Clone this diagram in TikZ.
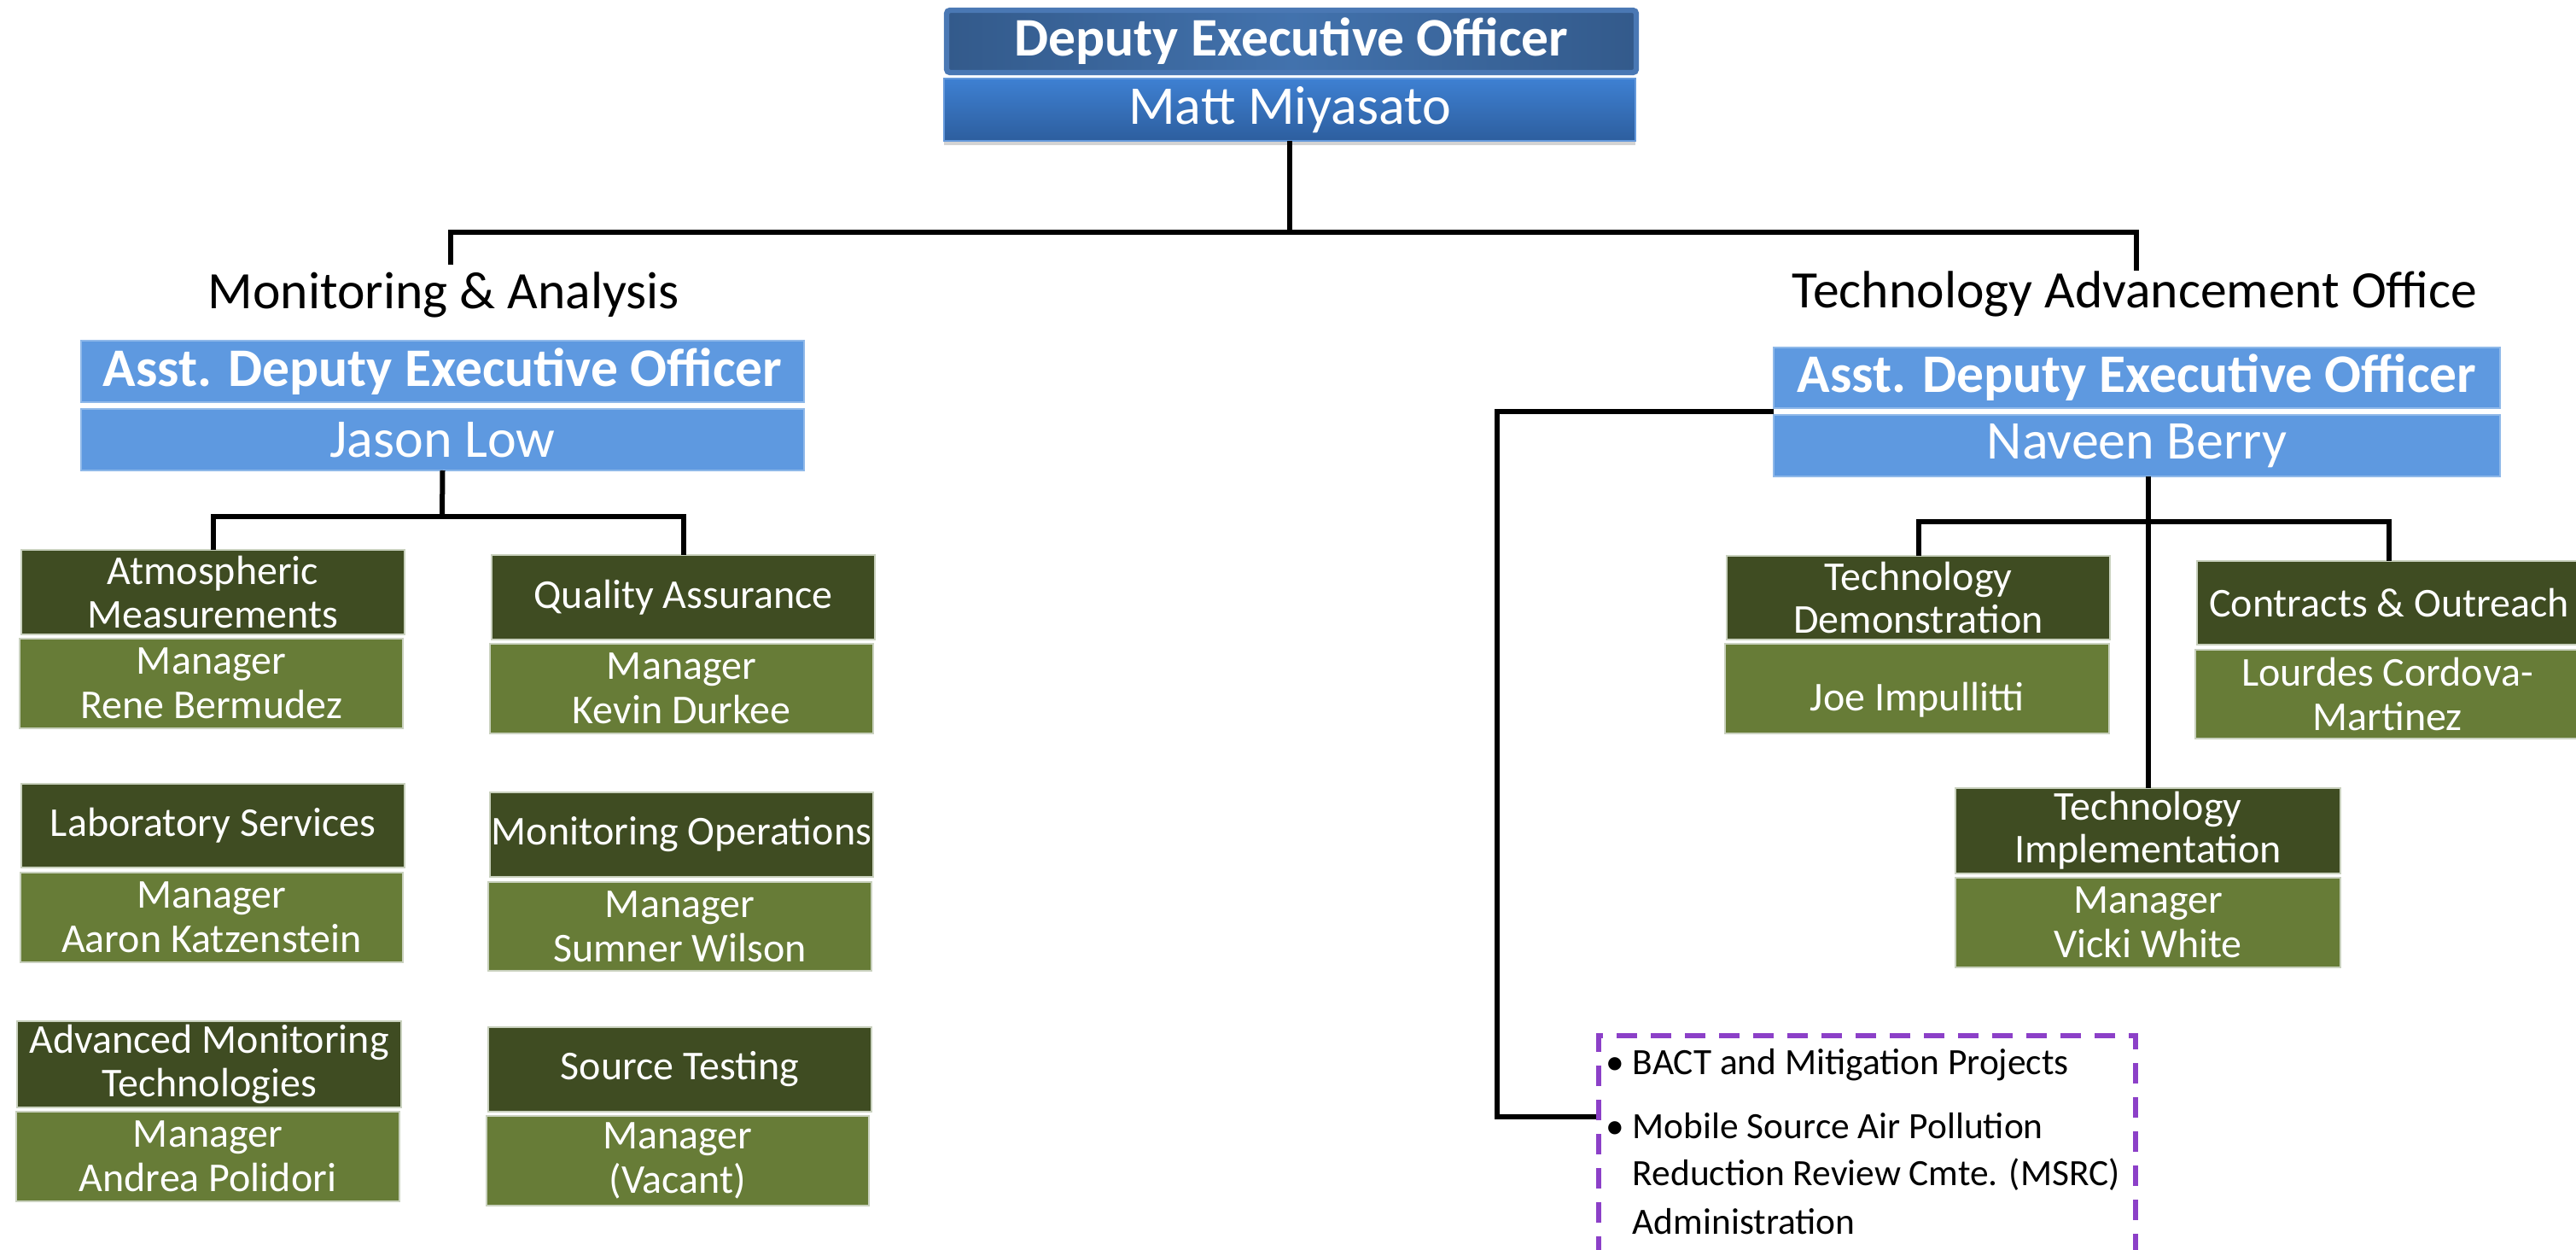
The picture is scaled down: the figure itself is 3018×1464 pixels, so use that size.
\documentclass[tikz,border=0pt]{standalone}
\usepackage{fontspec}
\setmainfont{Carlito}
\usetikzlibrary{shadows,calc}
\definecolor{deoEdge}{HTML}{4A78B4}
\definecolor{deoDark}{HTML}{335A8B}
\definecolor{deoMid}{HTML}{4272AD}
\definecolor{nameTop}{HTML}{3E80D2}
\definecolor{nameBot}{HTML}{2D5E9E}
\definecolor{adeBlue}{HTML}{5E99E0}
\definecolor{oliveDark}{HTML}{3F4C22}
\definecolor{oliveLight}{HTML}{677C37}
\definecolor{boxEdge}{HTML}{C9D1BE}
\definecolor{dashPurple}{HTML}{8C40C8}
\begin{document}
\begin{tikzpicture}[x=0.25pt,y=-0.25pt,
  sz/.style 2 args={minimum width=#1*0.25pt, minimum height=#2*0.25pt},
  box/.style={inner sep=0pt, outer sep=0pt, align=center, text=white},
  ttl/.style={box, fill=oliveDark, draw=boxEdge, line width=0.3pt, font=\fontsize{12}{12.6}\selectfont},
  mgr/.style={box, fill=oliveLight, draw=boxEdge, line width=0.3pt, execute at begin node={\rule{0pt}{10pt}}, font=\fontsize{12}{13}\selectfont},
  ade/.style={box, fill=adeBlue, draw=adeBlue!70!white, line width=0.3pt},
  deot/.style={box, rounded corners=1pt, draw=deoEdge, line width=1.6pt, left color=deoDark, right color=deoDark, middle color=deoMid, font=\fontsize{15.9}{18}\selectfont\bfseries},
  deon/.style={box, top color=nameTop, bottom color=nameBot, draw=nameTop!80!white, line width=0.3pt, drop shadow={shadow xshift=0pt, shadow yshift=-1.3pt, opacity=0.35}, font=\fontsize{16}{18}\selectfont},
  adefont/.style={font=\fontsize{15.9}{18}\selectfont\bfseries},
  namefont/.style={font=\fontsize{16}{18}\selectfont},
  conn/.style={draw=black, line width=1.5pt},
  heading/.style={anchor=base, font=\fontsize{15.4}{18}\selectfont},
  bul/.style={anchor=base west, inner sep=0pt, font=\fontsize{10.85}{14}\selectfont},
  dashbox/.style={draw=dashPurple, line width=1.3pt, dash pattern=on 6pt off 4pt, inner sep=0pt}
]
\useasboundingbox (0,0) rectangle (3018,1464);

% top
\node[deot, sz={808}{73}] (deotitle) at (1513,48.5) {Deputy Executive Officer};
\node[deon, sz={810}{73}] (deoname) at (1511,128.5) {Matt Miyasato};

\coordinate (jL) at (528,272);
\coordinate (jR) at (2503,272);
\coordinate (jLend) at (528,310);
\coordinate (jRend) at (2503,317);
\draw[conn] (deoname.south) -- (deoname.south |- jL);
\draw[conn] (jLend) -- (jL) -- (jR) -- (jRend);

\node[heading] (lblMA) at (520,362) {Monitoring \& Analysis};
\node[heading] (lblTAO) at (2501,361) {Technology Advancement Office};

% left branch
\node[ade, adefont, sz={847}{72}] (ladetitle) at (518.5,435) {Asst. Deputy Executive Officer};
\node[ade, namefont, sz={847}{72}] (ladename) at (518.5,515) {Jason Low};

\node[ttl, sz={449}{99}] (atm) at (249.5,693.5) {Atmospheric\\Measurements};
\node[mgr, sz={449}{105}] (atmM) at (247.5,800.5) {Manager\\Rene Bermudez};
\node[ttl, sz={449}{99}] (qa) at (800.5,699.5) {Quality Assurance};
\node[mgr, sz={449}{105}] (qaM) at (798.5,806.5) {Manager\\Kevin Durkee};
\node[ttl, sz={449}{98}] (lab) at (249.5,967) {Laboratory Services};
\node[mgr, sz={448}{105}] (labM) at (248,1074.5) {Manager\\Aaron Katzenstein};
\node[ttl, sz={449}{99}] (mon) at (798.5,977.5) {Monitoring Operations};
\node[mgr, sz={449}{104}] (monM) at (796.5,1085) {Manager\\Sumner Wilson};
\node[ttl, sz={450}{101}] (amt) at (245,1246.5) {Advanced Monitoring\\Technologies};
\node[mgr, sz={449}{105}] (amtM) at (243.5,1354.5) {Manager\\Andrea Polidori};
\node[ttl, sz={449}{99}] (st) at (796.5,1252.5) {Source Testing};
\node[mgr, sz={448}{105}] (stM) at (794,1359.5) {Manager\\(Vacant)};

\coordinate (lbus) at (518,605);
\draw[conn] (ladename.south) -- (lbus);
\draw[conn] (atm.north) -- (atm.north |- lbus) -- (qa.north |- lbus) -- (qa.north);

% right branch
\node[ade, adefont, sz={851}{71}] (radetitle) at (2503.5,442.5) {Asst. Deputy Executive Officer};
\node[ade, namefont, sz={851}{72}] (radename) at (2503.5,522) {Naveen Berry};

\node[ttl, sz={449}{98}] (td) at (2247.5,700) {Technology\\Demonstration};
\node[mgr, sz={450}{105}, execute at begin node={\rule{0pt}{15pt}}] (tdM) at (2246,806.5) {Joe Impullitti};
\node[ttl, sz={450}{98}] (co) at (2799,706) {Contracts \& Outreach};
\node[mgr, sz={450}{104}] (coM) at (2797,813) {Lourdes Cordova-\\Martinez};
\node[ttl, sz={451}{100}] (ti) at (2516.5,973) {Technology\\Implementation};
\node[mgr, sz={451}{105}] (tiM) at (2516.5,1080.5) {Manager\\Vicki White};

\coordinate (rbus) at (2515,611);
\draw[conn] (ti.north |- radename.south) -- (ti.north);
\draw[conn] (td.north) -- (td.north |- rbus) -- (co.north |- rbus) -- (co.north);

\node[dashbox, sz={629}{307}] (tasks) at (2187.5,1366.5) {};
\coordinate (gapR) at ($(radetitle.south west)!0.5!(radename.north west)$);
\coordinate (elbow) at (1754,1308);
\draw[conn] (gapR) -| (elbow) -- (elbow -| tasks.west);

\node[bul] (b1) at (1912,1258) {BACT and Mitigation Projects};
\node[bul] (b2) at (1912,1333) {Mobile Source Air Pollution};
\node[bul] (b3) at (1912,1388) {Reduction Review Cmte. (MSRC)};
\node[bul] (b4) at (1912,1445) {Administration};
\node[bul, anchor=base east] (d1) at (1904,1258) {•};
\node[bul, anchor=base east] (d2) at (1904,1333) {•};
\end{tikzpicture}
\end{document}
